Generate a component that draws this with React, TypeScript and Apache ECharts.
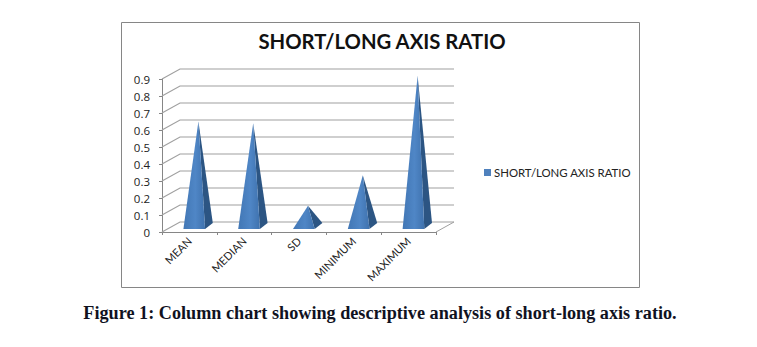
import React, { useEffect, useRef } from "react";
import * as echarts from "echarts";

const categories = ["MEAN", "MEDIAN", "SD", "MINIMUM", "MAXIMUM"];
const ratioValues = [0.62, 0.61, 0.125, 0.305, 0.89];
const yTicks = [0, 0.1, 0.2, 0.3, 0.4, 0.5, 0.6, 0.7, 0.8, 0.9];
const seriesName = "SHORT/LONG AXIS RATIO";
const caption = "Figure 1: Column chart showing descriptive analysis of short-long axis ratio.";

const DEPTH_X = 18;
const DEPTH_Y = -10;
const LINE = "#a0a0a0";

export default function App() {
  const ref = useRef<HTMLDivElement>(null);
  useEffect(() => {
    const chart = echarts.init(ref.current!, undefined, { renderer: "svg" });
    chart.setOption({
      animation: false,
      backgroundColor: "#ffffff",
      title: [
        {
          text: seriesName,
          left: 377,
          top: 26,
          textAlign: "center",
          textStyle: { fontFamily: "Lato", fontSize: 20.3, fontWeight: "bold", color: "#111111" },
        },
        {
          text: caption,
          left: 375,
          top: 299,
          textAlign: "center",
          textStyle: { fontFamily: "Liberation Serif", fontSize: 18.2, fontWeight: "bold", color: "#10121f" },
        },
      ],
      legend: {
        data: [seriesName],
        left: 479,
        top: 162,
        itemWidth: 7,
        itemHeight: 7,
        itemGap: 4,
        icon: "rect",
        textStyle: { fontFamily: "Lato", fontSize: 11.4, color: "#222222", padding: [0, 0, 0, -2] },
      },
      graphic: [
        {
          type: "rect",
          silent: true,
          z: -1,
          shape: { x: 121.5, y: 22.5, width: 518, height: 265 },
          style: { fill: "#ffffff", stroke: "#868686", lineWidth: 1 },
        },
      ],
      grid: { left: 162, top: 79, width: 274, height: 153, containLabel: false },
      xAxis: {
        type: "category",
        data: categories,
        axisLine: { lineStyle: { color: "#868686" } },
        axisTick: { show: true, length: 3, alignWithLabel: false, lineStyle: { color: "#868686" } },
        axisLabel: {
          rotate: 45,
          interval: 0,
          margin: 7,
          fontFamily: "Lato",
          fontSize: 11,
          color: "#222222",
        },
      },
      yAxis: {
        type: "value",
        min: 0,
        max: 0.9,
        interval: 0.1,
        splitLine: { show: false },
        axisLine: { show: true, lineStyle: { color: "#868686" } },
        axisTick: { show: true, length: 3, lineStyle: { color: "#868686" } },
        axisLabel: {
          margin: 12,
          fontFamily: "Open Sans",
          fontSize: 11.5,
          color: "#222222",
          formatter: (v: number) => String(Number(v.toFixed(1))),
        },
      },
      series: [
        {
          name: "wall",
          type: "custom",
          coordinateSystem: "cartesian2d",
          silent: true,
          z: 1,
          data: yTicks.map((t) => [0, t]),
          renderItem: (params: any, api: any) => {
            const y = api.coord([0, api.value(1)])[1];
            const cs = params.coordSys;
            const x0 = cs.x;
            const x1 = cs.x + cs.width;
            const children: any[] = [
              {
                type: "polyline",
                shape: {
                  points: [
                    [x0, y],
                    [x0 + DEPTH_X, y + DEPTH_Y],
                    [x1 + DEPTH_X, y + DEPTH_Y],
                  ],
                },
                style: { fill: "none", stroke: LINE, lineWidth: 1.2 },
              },
            ];
            if (api.value(1) === 0) {
              children.push({
                type: "line",
                shape: { x1, y1: y, x2: x1 + DEPTH_X, y2: y + DEPTH_Y },
                style: { stroke: LINE, lineWidth: 1 },
              });
            }
            return { type: "group", children };
          },
        },
        {
          name: seriesName,
          type: "custom",
          coordinateSystem: "cartesian2d",
          z: 2,
          itemStyle: { color: "#4f81bd" },
          encode: { x: 0, y: 1 },
          data: ratioValues.map((v, i) => [categories[i], v]),
          renderItem: (params: any, api: any) => {
            const center = api.coord([params.dataIndex, 0]);
            const top = api.coord([params.dataIndex, api.value(1)]);
            const baseY = center[1] - 3;
            const cx = center[0];
            const left = cx - 6;
            const right = cx + 15.7;
            const backX = right + 7.7;
            const backY = baseY - 6;
            const apex = [cx + 9, top[1] - 5];
            return {
              type: "group",
              children: [
                {
                  type: "polygon",
                  shape: { points: [[right, baseY], [backX, backY], apex] },
                  style: { fill: "#2c5583" },
                },
                {
                  type: "polygon",
                  shape: { points: [[left, baseY], [right, baseY], apex] },
                  style: {
                    fill: new echarts.graphic.LinearGradient(0, 0, 1, 0, [
                      { offset: 0, color: "#4277b5" },
                      { offset: 0.55, color: "#4f86c6" },
                      { offset: 1, color: "#3f72ae" },
                    ]),
                  },
                },
              ],
            };
          },
        },
      ],
    });
    return () => chart.dispose();
  }, []);
  return (
    <div
      ref={ref}
      style={{ position: "absolute", left: 0, top: 0, width: 757, height: 347 }}
    />
  );
}
